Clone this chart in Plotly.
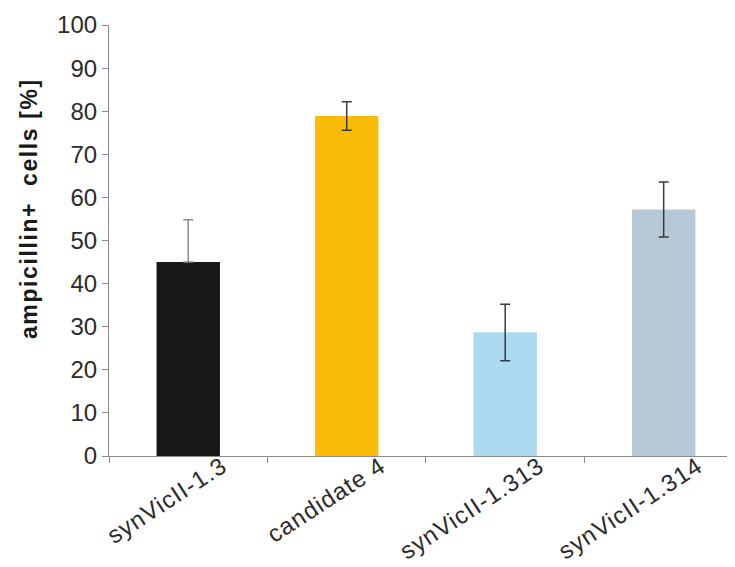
import plotly.graph_objects as go

categories = ["synVicII-1.3", "candidate 4", "synVicII-1.313", "synVicII-1.314"]
values = [45.0, 78.9, 28.7, 57.2]
err_plus = [9.8, 3.3, 6.5, 6.4]
err_minus = [0.0, 3.3, 6.6, 6.4]
colors = ["#161817", "#fbbb09", "#acdaf0", "#b6c8d5"]
err_colors = ["#8a8a8a", "#3a3a3a", "#3a3a3a", "#3a3a3a"]
y_title = "ampicillin+  cells [%]"

fig = go.Figure()
for i, c in enumerate(categories):
    fig.add_trace(go.Bar(
        x=[c], y=[values[i]], width=0.40,
        marker=dict(color=colors[i], line=dict(width=0)),
        error_y=dict(type="data", symmetric=False, array=[err_plus[i]],
                     arrayminus=[err_minus[i]], color=err_colors[i],
                     thickness=1.5, width=5),
        showlegend=False,
    ))

fig.update_layout(
    width=727, height=559,
    margin=dict(l=101, r=0, t=17, b=111),
    paper_bgcolor="white", plot_bgcolor="white",
    barmode="overlay",
    font=dict(family="Liberation Sans, Arial, sans-serif", color="#2b2b2b"),
    yaxis=dict(
        range=[0, 100], dtick=10, showgrid=False, zeroline=False,
        showline=True, linecolor="#8c8c8c", linewidth=1.2,
        ticks="outside", ticklen=6, tickcolor="#8c8c8c",
        tickfont=dict(size=24), automargin=False,
    ),
    xaxis=dict(
        range=[-0.5, 3.45], showgrid=False, zeroline=False,
        showline=True, linecolor="#8c8c8c", linewidth=1.2,
        ticks="outside", ticklen=6, tickcolor="#8c8c8c", tickson="boundaries",
        tickmode="array", tickvals=categories,
        ticktext=['<span style="letter-spacing:1px">' + c + '</span>' for c in categories],
        tickangle=-33, tickfont=dict(size=24), automargin=False,
        ticklabelshift=34, ticklabelstandoff=-14,
    ),
    annotations=[dict(
        text='<span style="letter-spacing:1.6px">' + y_title + '</span>',
        xref="paper", yref="paper", x=-0.128, y=0.575,
        xanchor="center", yanchor="middle", textangle=-90, showarrow=False,
        font=dict(size=23, weight="bold", color="#1a1a1a"),
    )],
)

fig.write_html("out.html")
